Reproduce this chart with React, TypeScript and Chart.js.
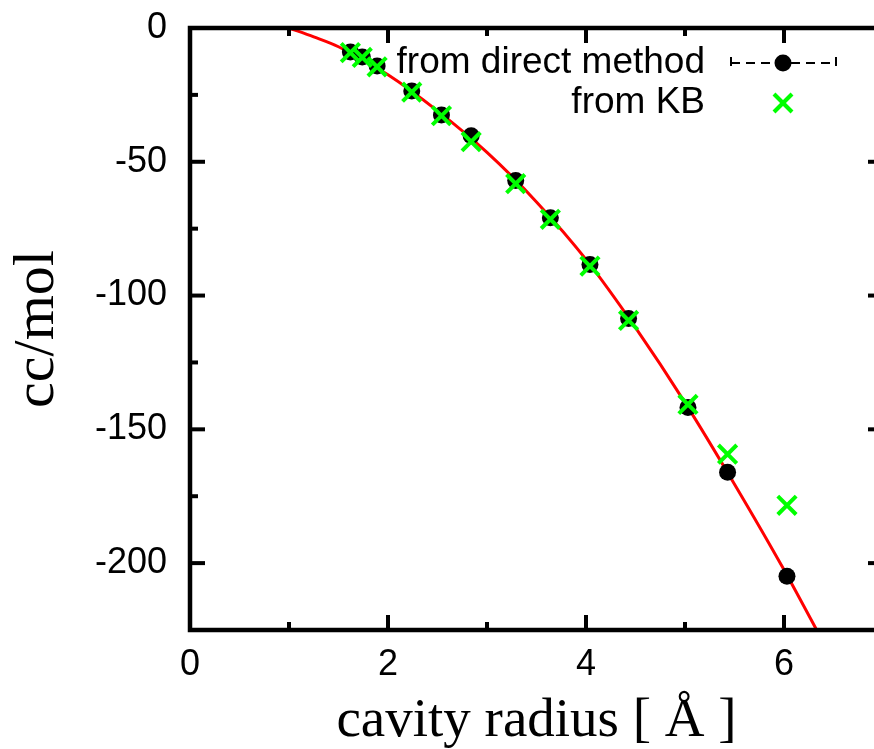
import React, { useEffect, useRef } from "react";
import { Chart, registerables } from "chart.js";

Chart.register(...registerables);

// ---- data ----
const radii = [1.62, 1.74, 1.89, 2.24, 2.54, 2.84, 3.29, 3.64, 4.04, 4.43, 5.03, 5.43, 6.03];
const directValues = [-9.0, -10.8, -14.2, -23.5, -32.5, -40.3, -57.0, -70.9, -88.4, -108.6, -141.8, -166.0, -204.9];
const kbValues = [-9.2, -11.0, -14.5, -24.0, -32.8, -42.5, -58.2, -71.5, -89.0, -109.3, -140.7, -159.3, -178.4];
const fitRadii = [1.0, 1.25, 1.5, 2.0, 2.5, 3.0, 3.5, 4.0, 4.5, 5.0, 5.5, 6.0, 6.33];
const fitValues = [0, -3.3, -7.0, -17.5, -31.0, -46.5, -65.0, -86.5, -112.0, -140.0, -170.5, -202.5, -225.0];
const xTickValues = [0, 2, 4, 6];
const xMinorTicks = [1, 3, 5];
const yTickValues = [0, -50, -100, -150, -200];
const yMinorTicks = [-25, -75, -125, -175];
const seriesLabels = ["from direct method", "from KB"];
const xTitle = "cavity radius [ Å ]";
const yTitle = "cc/mol";

const GREEN = "#00ff00";
const RED = "#ff0000";
const SANS = '"Liberation Sans", Arial, Helvetica, sans-serif';
const SERIF = '"Liberation Serif", "Times New Roman", serif';

const framePlugin = {
  id: "frame",
  afterDatasetsDraw(chart: any) {
    const { ctx, chartArea, scales } = chart;
    const { left, right, top, bottom } = chartArea;
    const x = scales.x;
    const y = scales.y;
    ctx.save();
    ctx.strokeStyle = "#000";
    ctx.lineCap = "butt";
    ctx.lineWidth = 4;
    const seg = (x1: number, y1: number, x2: number, y2: number) => {
      ctx.beginPath();
      ctx.moveTo(x1, y1);
      ctx.lineTo(x2, y2);
      ctx.stroke();
    };
    const major = 15;
    const minor = 8;
    xTickValues.forEach((v) => {
      const p = x.getPixelForValue(v);
      seg(p, bottom, p, bottom - major);
      seg(p, top, p, top + major);
    });
    xMinorTicks.forEach((v) => {
      const p = x.getPixelForValue(v);
      seg(p, bottom, p, bottom - minor);
      seg(p, top, p, top + minor);
    });
    yTickValues.forEach((v) => {
      const p = y.getPixelForValue(v);
      seg(left, p, left + major, p);
      seg(right, p, right - major, p);
    });
    yMinorTicks.forEach((v) => {
      const p = y.getPixelForValue(v);
      seg(left, p, left + minor, p);
      seg(right, p, right - minor, p);
    });
    ctx.lineWidth = 4.5;
    ctx.lineJoin = "miter";
    ctx.strokeRect(left, top, right - left, bottom - top);

    // legend (gnuplot style: right-aligned text, sample on the right)
    ctx.font = "37px " + SANS;
    ctx.fillStyle = "#000";
    ctx.textAlign = "right";
    ctx.textBaseline = "middle";
    const textRight = 705;
    const row1 = 63;
    const row2 = 103;
    ctx.fillText(seriesLabels[0], textRight, row1);
    ctx.fillText(seriesLabels[1], textRight, row2);
    const s0 = 731;
    const s1 = 836;
    const sc = 783;
    ctx.strokeStyle = "#000";
    ctx.lineWidth = 2;
    ctx.setLineDash([9, 6]);
    seg(s0, row1, s1, row1);
    ctx.setLineDash([]);
    seg(s0, row1 - 6, s0, row1 + 3);
    seg(s1, row1 - 6, s1, row1 + 3);
    ctx.beginPath();
    ctx.arc(sc, row1, 8.5, 0, Math.PI * 2);
    ctx.fill();
    ctx.strokeStyle = GREEN;
    ctx.lineWidth = 4;
    const h = 9;
    seg(sc - h, row2 - h, sc + h, row2 + h);
    seg(sc - h, row2 + h, sc + h, row2 - h);
    ctx.restore();
  },
};

export default function App() {
  const canvasRef = useRef<HTMLCanvasElement | null>(null);

  useEffect(() => {
    const canvas = canvasRef.current;
    if (!canvas) return;
    const chart = new Chart(canvas, {
      type: "scatter",
      data: {
        datasets: [
          {
            label: seriesLabels[1],
            data: radii.map((r, i) => ({ x: r, y: kbValues[i] })),
            pointStyle: "crossRot",
            pointRadius: 13,
            pointBorderWidth: 4,
            borderColor: GREEN,
            backgroundColor: GREEN,
            showLine: false,
          },
          {
            label: seriesLabels[0],
            data: radii.map((r, i) => ({ x: r, y: directValues[i] })),
            pointStyle: "circle",
            pointRadius: 8.5,
            pointBorderWidth: 0,
            borderColor: "#000",
            backgroundColor: "#000",
            showLine: false,
          },
          {
            label: "fit",
            data: fitRadii.map((r, i) => ({ x: r, y: fitValues[i] })),
            showLine: true,
            pointRadius: 0,
            borderColor: RED,
            borderWidth: 3,
            cubicInterpolationMode: "monotone",
            fill: false,
          },
        ],
      },
      options: {
        animation: false,
        responsive: false,
        devicePixelRatio: 1,
        layout: { padding: { top: 28, right: 0, left: 0, bottom: 0 } },
        plugins: {
          legend: { display: false },
          tooltip: { enabled: false },
        },
        scales: {
          x: {
            type: "linear",
            min: 0,
            max: 7,
            grid: { display: false, drawTicks: false },
            border: { display: false },
            afterBuildTicks: (s: any) => {
              s.ticks = xTickValues.map((v) => ({ value: v }));
            },
            afterFit: (s: any) => {
              s.height = 119;
              s.paddingLeft = 0;
              s.paddingRight = 0;
              s.paddingTop = 0;
              s.paddingBottom = 0;
            },
            ticks: {
              color: "#000",
              padding: 13,
              font: { family: SANS, size: 36 },
              callback: (v: any) => String(v),
            },
            title: {
              display: true,
              text: xTitle,
              color: "#000",
              font: { family: SERIF, size: 55, lineHeight: 1 },
              padding: { top: 0, bottom: 0 },
            },
          },
          y: {
            type: "linear",
            min: -225,
            max: 0,
            grid: { display: false, drawTicks: false },
            border: { display: false },
            afterBuildTicks: (s: any) => {
              s.ticks = yTickValues.map((v) => ({ value: v }));
            },
            afterFit: (s: any) => {
              s.width = 190;
              s.paddingLeft = 0;
              s.paddingRight = 0;
              s.paddingTop = 0;
              s.paddingBottom = 0;
            },
            ticks: {
              color: "#000",
              padding: 23,
              font: { family: SANS, size: 36 },
              callback: (v: any) => String(v),
            },
            title: {
              display: true,
              text: yTitle,
              color: "#000",
              font: { family: SERIF, size: 58, lineHeight: 1 },
              padding: { top: 9, bottom: 0 },
            },
          },
        },
      },
      plugins: [framePlugin],
    });
    return () => chart.destroy();
  }, []);

  return (
    <div
      style={{
        position: "fixed",
        left: 0,
        top: 0,
        width: 874,
        height: 749,
        overflow: "hidden",
        background: "#fff",
      }}
    >
      <canvas ref={canvasRef} width={900} height={749} style={{ display: "block" }} />
    </div>
  );
}
